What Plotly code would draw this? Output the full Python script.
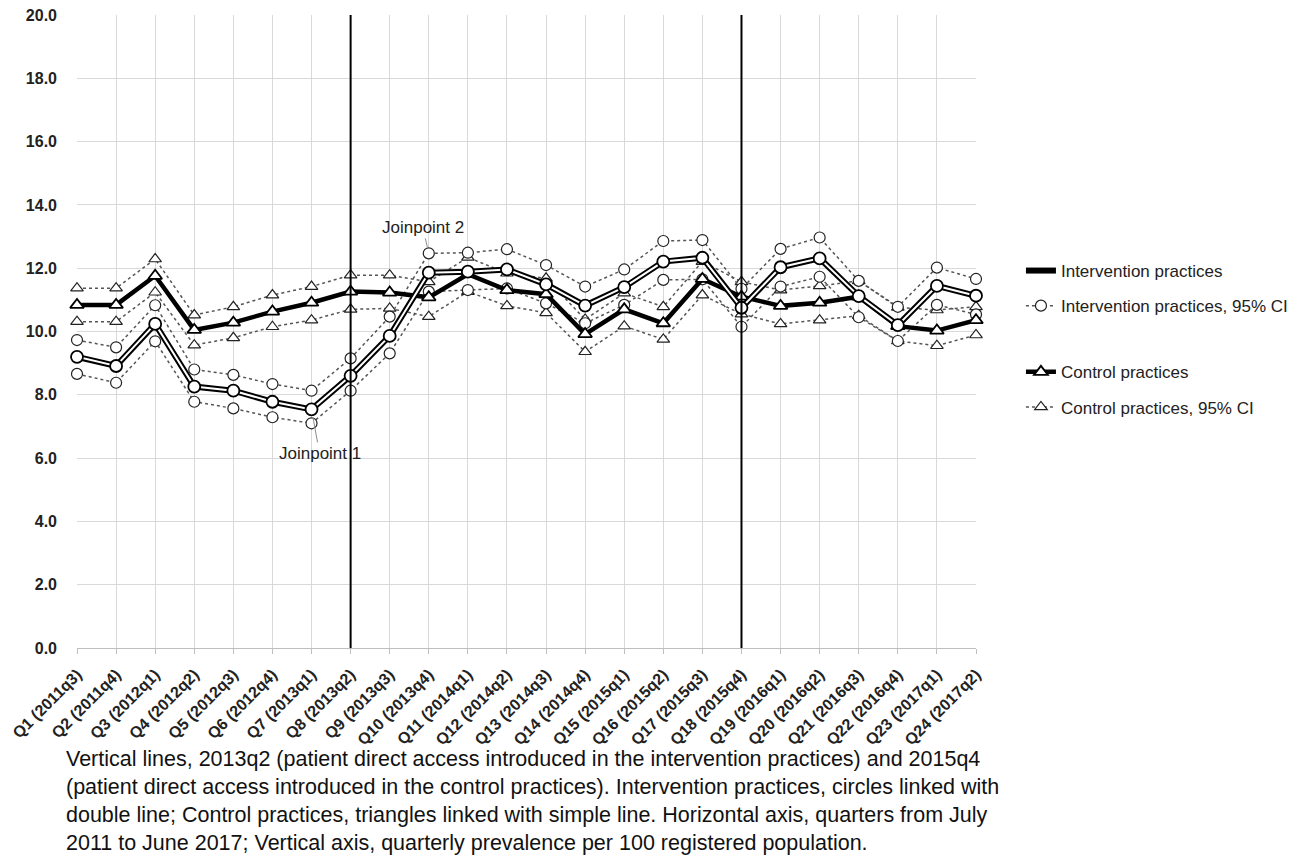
import plotly.graph_objects as go

quarters = ["Q1 (2011q3)", "Q2 (2011q4)", "Q3 (2012q1)", "Q4 (2012q2)", "Q5 (2012q3)", "Q6 (2012q4)",
            "Q7 (2013q1)", "Q8 (2013q2)", "Q9 (2013q3)", "Q10 (2013q4)", "Q11 (2014q1)", "Q12 (2014q2)",
            "Q13 (2014q3)", "Q14 (2014q4)", "Q15 (2015q1)", "Q16 (2015q2)", "Q17 (2015q3)", "Q18 (2015q4)",
            "Q19 (2016q1)", "Q20 (2016q2)", "Q21 (2016q3)", "Q22 (2016q4)", "Q23 (2017q1)", "Q24 (2017q2)"]

int_main = [9.20, 8.91, 10.24, 8.26, 8.13, 7.78, 7.54, 8.60, 9.86, 11.86, 11.89, 11.96,
            11.49, 10.82, 11.40, 12.21, 12.33, 10.75, 12.03, 12.31, 11.12, 10.20, 11.44, 11.13]
int_upper = [9.73, 9.50, 10.83, 8.80, 8.63, 8.34, 8.13, 9.15, 10.47, 12.47, 12.49, 12.60,
             12.10, 11.42, 11.96, 12.86, 12.89, 11.35, 12.61, 12.97, 11.60, 10.78, 12.02, 11.66]
int_lower = [8.66, 8.38, 9.69, 7.78, 7.57, 7.29, 7.10, 8.13, 9.31, 11.26, 11.31, 11.36,
             10.89, 10.26, 10.84, 11.63, 11.65, 10.15, 11.42, 11.73, 10.45, 9.70, 10.84, 10.54]

ctl_main = [10.84, 10.84, 11.76, 10.05, 10.28, 10.63, 10.91, 11.26, 11.23, 11.08, 11.81, 11.31,
            11.18, 9.92, 10.70, 10.26, 11.66, 11.10, 10.81, 10.91, 11.10, 10.17, 10.03, 10.36]
ctl_upper = [11.37, 11.37, 12.29, 10.52, 10.78, 11.15, 11.42, 11.78, 11.78, 11.57, 12.34, 11.84,
             11.68, 10.38, 11.21, 10.78, 12.21, 11.57, 11.31, 11.44, 11.60, 10.76, 10.68, 10.78]
ctl_lower = [10.31, 10.31, 11.24, 9.57, 9.80, 10.15, 10.36, 10.70, 10.73, 10.47, 11.26, 10.81,
             10.59, 9.36, 10.17, 9.75, 11.15, 10.55, 10.24, 10.36, 10.50, 9.70, 9.55, 9.89]

y_ticks = [0, 2, 4, 6, 8, 10, 12, 14, 16, 18, 20]
vline_quarters = [7, 17]  # Q8 (2013q2), Q18 (2015q4)

caption_lines = [
    "Vertical lines, 2013q2 (patient direct access introduced in the intervention practices) and 2015q4",
    "(patient direct access introduced in the control practices). Intervention practices, circles linked with",
    "double line; Control practices, triangles linked with simple line. Horizontal axis, quarters from July",
    "2011 to June 2017; Vertical axis, quarterly prevalence per 100 registered population.",
]

FONT = "Liberation Sans"
x = list(range(len(quarters)))

fig = go.Figure()

ci_line = dict(color="#555555", width=1.5, dash="dot")

for ys, show in [(ctl_upper, True), (ctl_lower, False)]:
    fig.add_trace(go.Scatter(
        x=x, y=ys, mode="lines+markers", name="Control practices, 95% CI",
        legend="legend2", legendgroup="ctlci", showlegend=show, legendrank=2,
        line=ci_line,
        marker=dict(symbol="triangle-up", size=11, color="white", line=dict(color="#222222", width=1.2)),
        cliponaxis=False))

for ys, show in [(int_upper, True), (int_lower, False)]:
    fig.add_trace(go.Scatter(
        x=x, y=ys, mode="lines+markers", name="Intervention practices, 95% CI",
        legend="legend", legendgroup="intci", showlegend=show, legendrank=2,
        line=ci_line,
        marker=dict(symbol="circle", size=11, color="white", line=dict(color="#222222", width=1.2)),
        cliponaxis=False))

fig.add_trace(go.Scatter(
    x=x, y=ctl_main, mode="lines+markers", name="Control practices",
    legend="legend2", legendgroup="ctl", legendrank=1,
    line=dict(color="black", width=4.5),
    marker=dict(symbol="triangle-up", size=12, color="white", line=dict(color="black", width=1.8)),
    cliponaxis=False))

fig.add_trace(go.Scatter(
    x=x, y=int_main, mode="lines", name="Intervention practices",
    legend="legend", legendgroup="int", legendrank=1,
    line=dict(color="black", width=6),
    cliponaxis=False))
fig.add_trace(go.Scatter(
    x=x, y=int_main, mode="lines+markers", name="Intervention practices",
    legend="legend", legendgroup="int", showlegend=False,
    line=dict(color="white", width=2),
    marker=dict(symbol="circle", size=12, color="white", line=dict(color="black", width=1.8)),
    cliponaxis=False))

for q in vline_quarters:
    fig.add_shape(type="line", xref="x", yref="y", x0=q, x1=q, y0=-0.15, y1=20,
                  line=dict(color="black", width=2))

fig.add_annotation(x=6, y=int_main[6], xref="x", yref="y", text="Joinpoint 1",
                   showarrow=True, arrowhead=0, arrowwidth=1, arrowcolor="#8c8c8c",
                   ax=8, ay=44, standoff=8,
                   font=dict(family=FONT, size=17, color="#222222"))
fig.add_annotation(x=9, y=int_upper[9], xref="x", yref="y", text="Joinpoint 2",
                   showarrow=True, arrowhead=0, arrowwidth=1, arrowcolor="#8c8c8c",
                   ax=-6, ay=-26, standoff=6,
                   font=dict(family=FONT, size=17, color="#222222"))

cap_y_px = [759, 787, 815, 843]
for line, ypx in zip(caption_lines, cap_y_px):
    fig.add_annotation(x=(56 - 69) / 899, y=(648 - ypx) / 633, xref="paper", yref="paper",
                       xanchor="left", yanchor="middle", showarrow=False, text=line,
                       font=dict(family=FONT, size=21.5, color="#111111"))

fig.update_layout(
    width=1285, height=848,
    margin=dict(l=69, r=317, t=7, b=208, autoexpand=False),
    paper_bgcolor="white", plot_bgcolor="white",
    font=dict(family=FONT, color="#222222"),
    legend=dict(x=1.05, y=0.624, xanchor="left", yanchor="top", tracegroupgap=10,
                font=dict(family=FONT, size=17, color="#222222"), bgcolor="rgba(0,0,0,0)"),
    legend2=dict(x=1.05, y=0.464, xanchor="left", yanchor="top", tracegroupgap=10,
                 font=dict(family=FONT, size=17, color="#222222"), bgcolor="rgba(0,0,0,0)"),
)

fig.update_xaxes(range=[0, 23], tickmode="array", tickvals=x, ticktext=quarters, tickangle=-45,
                 showgrid=True, gridcolor="#d9d9d9", gridwidth=1, zeroline=False,
                 showline=True, linecolor="#bfbfbf", linewidth=1, automargin=False,
                 ticks="outside", ticklen=5, tickcolor="#bfbfbf", ticklabelstandoff=5,
                 ticklabeloverflow="allow",
                 tickfont=dict(family=FONT, size=16, color="#222222", weight="bold"))
fig.update_yaxes(range=[0, 20], tickmode="array", tickvals=y_ticks,
                 ticktext=[f"{v:.1f}" for v in y_ticks], automargin=False,
                 showgrid=True, gridcolor="#d9d9d9", gridwidth=1, zeroline=False,
                 showline=False, ticks="", ticklabelstandoff=19, ticklabeloverflow="allow",
                 tickfont=dict(family=FONT, size=16, color="#222222", weight="bold"))

fig.write_html("out.html")
